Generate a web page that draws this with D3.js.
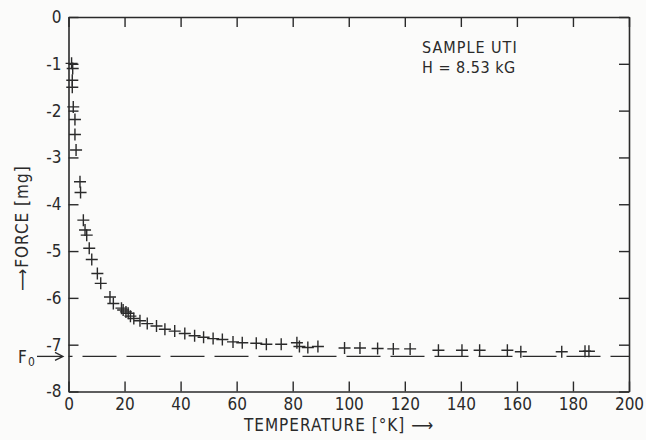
<!DOCTYPE html>
<html>
<head>
<meta charset="utf-8">
<script src="https://cdn.jsdelivr.net/npm/d3@7"></script>
<style>
  body { margin: 0; background: #fbfbfa; }
  svg { display: block; }
  .lab { font-family: "Liberation Sans Narrow", "DejaVu Sans Condensed", "Liberation Sans", sans-serif; fill: #2a2a2a; }
</style>
</head>
<body>
<div id="chart"></div>
<script>
// temperature [K] and force [mg]
const temps = [1.1, 1.5, 1.35, 1.35, 1.7, 2.3, 2.3, 2.7, 4.1, 4.3,
               5.3, 5.9, 6.5, 7.4, 8.3, 10.3, 11.5, 14.8, 16.0,
               18.9, 19.5, 20.5, 21.3, 22.1, 23.3, 25.5, 28.1, 31.4, 34.4,
               37.9, 41.5, 45.0, 48.2, 51.6, 54.9, 58.7, 62.0, 67.0, 70.6,
               75.9, 81.5, 82.4, 85.4, 89.0, 98.5, 104.0, 110.3, 115.9, 121.9,
               132.0, 140.4, 146.7, 156.6, 161.4, 176.0, 184.3, 185.7]
const forces = [-0.99, -1.10, -1.35, -1.50, -1.92, -2.19, -2.51, -2.84, -3.52, -3.75,
                -4.34, -4.55, -4.66, -4.94, -5.18, -5.48, -5.69, -5.98, -6.12,
                -6.22, -6.26, -6.30, -6.33, -6.39, -6.44, -6.49, -6.55, -6.60, -6.67,
                -6.71, -6.76, -6.81, -6.84, -6.87, -6.89, -6.94, -6.96, -6.97, -6.99,
                -6.99, -6.96, -7.04, -7.06, -7.04, -7.07, -7.07, -7.08, -7.09, -7.09,
                -7.12, -7.12, -7.12, -7.12, -7.15, -7.15, -7.14, -7.14]
const f0 = -7.25
const xTicks = [0, 20, 40, 60, 80, 100, 120, 140, 160, 180, 200]
const yTicks = [0, -1, -2, -3, -4, -5, -6, -7, -8]

const width = 646, height = 440
const margin = {top: 17, right: 17, bottom: 48.5, left: 68.5}
const innerWidth = width - margin.left - margin.right
const innerHeight = height - margin.top - margin.bottom
const ink = "#2a2a2a"

const svg = d3.select("#chart").append("svg")
              .attr("width", width)
              .attr("height", height)
const chart = svg.append("g")
                 .attr("transform", `translate(${margin.left}, ${margin.top})`)

const xScale = d3.scaleLinear().domain([0, 200]).range([0, innerWidth])
const yScale = d3.scaleLinear().domain([0, -8]).range([0, innerHeight])

// axes, ticks pointing inward on all four sides
const styleAxis = g => {
    g.selectAll("path").attr("stroke", ink).attr("stroke-width", 1.6)
    g.selectAll("line").attr("stroke", ink).attr("stroke-width", 1.4)
    g.selectAll("text").attr("class", "lab").attr("fill", ink).attr("font-size", "17px")
}
const noLabels = g => g.selectAll("text").remove()
chart.append("g")
     .attr("transform", `translate(0, ${innerHeight})`)
     .call(d3.axisBottom(xScale).tickValues(xTicks).tickSizeInner(-10).tickSizeOuter(0)
             .tickPadding(6).tickFormat(d3.format("d")))
     .call(styleAxis)
chart.append("g")
     .call(d3.axisTop(xScale).tickValues(xTicks).tickSizeInner(-10).tickSizeOuter(0))
     .call(styleAxis)
     .call(noLabels)
chart.append("g")
     .call(d3.axisLeft(yScale).tickValues(yTicks).tickSizeInner(-10).tickSizeOuter(0)
             .tickPadding(7).tickFormat(d => d === 0 ? "0" : "-" + Math.abs(d)))
     .call(styleAxis)
chart.append("g")
     .attr("transform", `translate(${innerWidth}, 0)`)
     .call(d3.axisRight(yScale).tickValues(yTicks).tickSizeInner(-10).tickSizeOuter(0))
     .call(styleAxis)
     .call(noLabels)

// F0 dashed line
chart.append("line")
     .attr("x1", 0).attr("x2", innerWidth)
     .attr("y1", yScale(f0)).attr("y2", yScale(f0))
     .attr("stroke", ink).attr("stroke-width", 1.4)
     .attr("stroke-dasharray", "34,10")
     .attr("stroke-dashoffset", -14)

// data as plus marks
const plus = {draw(ctx) { ctx.moveTo(-6, 0); ctx.lineTo(6, 0); ctx.moveTo(0, -6); ctx.lineTo(0, 6) }}
const data = temps.map((t, i) => ({t: t, f: forces[i]}))
chart.append("g")
     .selectAll("path")
     .data(data)
     .join("path")
     .attr("d", d3.symbol(plus))
     .attr("transform", d => `translate(${xScale(d.t)}, ${yScale(d.f)})`)
     .attr("fill", "none")
     .attr("stroke", ink)
     .attr("stroke-width", 1.4)

// labels
svg.append("text").attr("class", "lab")
   .attr("x", 422).attr("y", 53).attr("font-size", "16px")
   .attr("letter-spacing", "1px")
   .text("SAMPLE UTI")
svg.append("text").attr("class", "lab")
   .attr("x", 422).attr("y", 73).attr("font-size", "16px")
   .attr("letter-spacing", "0.5px")
   .text("H = 8.53 kG")

svg.append("text").attr("class", "lab")
   .attr("x", 339).attr("y", 431).attr("font-size", "17px")
   .attr("text-anchor", "middle").attr("letter-spacing", "1px")
   .text("TEMPERATURE [°K] ⟶")

svg.append("text").attr("class", "lab")
   .attr("transform", "translate(28, 228) rotate(-90)")
   .attr("font-size", "17px")
   .attr("text-anchor", "middle").attr("letter-spacing", "1px")
   .text("⟶FORCE [mg]")

const f0y = margin.top + yScale(f0)
svg.append("text").attr("class", "lab")
   .attr("x", 18).attr("y", f0y + 7).attr("font-size", "17px")
   .text("F")
svg.append("text").attr("class", "lab")
   .attr("x", 28).attr("y", f0y + 10).attr("font-size", "12px")
   .text("0")
svg.append("line")
   .attr("x1", 37).attr("x2", 62).attr("y1", f0y).attr("y2", f0y)
   .attr("stroke", ink).attr("stroke-width", 1.3)
svg.append("path")
   .attr("d", `M55,${f0y - 4}L63,${f0y}L55,${f0y + 4}`)
   .attr("fill", "none").attr("stroke", ink).attr("stroke-width", 1.3)
</script>
</body>
</html>
